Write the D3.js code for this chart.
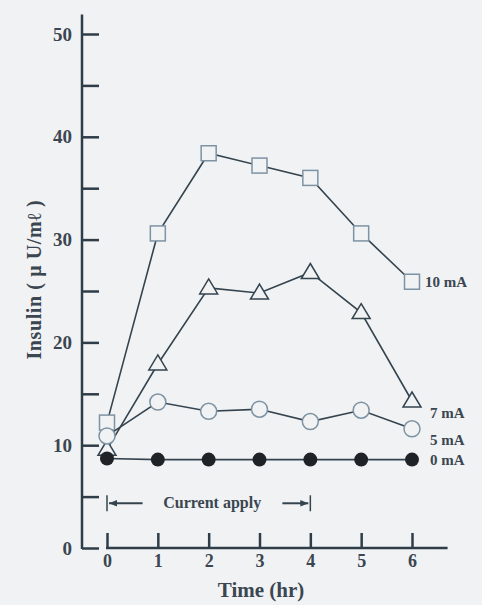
<!DOCTYPE html>
<html>
<head>
<meta charset="utf-8">
<script src="https://cdn.jsdelivr.net/npm/d3@7"></script>
<style>
  html, body { margin: 0; padding: 0; background: #f1f2f4; }
  svg text { font-family: "Liberation Serif", "DejaVu Serif", serif; font-weight: bold; fill: #3b4650; }
</style>
</head>
<body>
<div id="chart"></div>
<script>
// data
const hours = [0, 1, 2, 3, 4, 5, 6];
const ma10 = [12.2, 30.6, 38.4, 37.2, 36.0, 30.6, 25.9];
const ma7 = [9.6, 17.9, 25.3, 24.8, 26.8, 22.9, 14.3];
const ma5 = [10.9, 14.2, 13.3, 13.5, 12.3, 13.4, 11.6];
const ma0 = [8.7, 8.6, 8.6, 8.6, 8.6, 8.6, 8.6];
const seriesNames = ["10 mA", "7 mA", "5 mA", "0 mA"];
const yTicks = [0, 5, 10, 15, 20, 25, 30, 35, 40, 45, 50];

const W = 482, H = 605;
const lineColor = "#34444f";
const markColor = "#7d93a3";
const axisColor = "#2f3d48";
const bg = "#f1f2f4";

const svg = d3.select("#chart")
  .append("svg")
  .attr("width", W)
  .attr("height", H);

svg.append("rect").attr("width", W).attr("height", H).attr("fill", bg);

const x = d3.scaleLinear().domain([0, 6]).range([107, 412]);
const y = d3.scaleLinear().domain([0, 50]).range([548, 34]);

// Y axis
const yAxis = svg.append("g")
  .attr("transform", "translate(82,0)")
  .call(d3.axisLeft(y)
    .tickValues(yTicks)
    .tickSizeInner(-17)
    .tickSizeOuter(0)
    .tickPadding(10)
    .tickFormat(d => d % 10 === 0 ? d : ""));
yAxis.select(".domain").remove();
yAxis.selectAll("line").attr("stroke", axisColor).attr("stroke-width", 2.5);
yAxis.selectAll("text").style("font-size", "19px").attr("fill", "#3b4650");
yAxis.append("line")
  .attr("x1", 0).attr("x2", 0)
  .attr("y1", y(51.9)).attr("y2", y(0) + 1)
  .attr("stroke", axisColor).attr("stroke-width", 2.5);

// X axis
const xAxis = svg.append("g")
  .attr("transform", `translate(0,${y(0)})`)
  .call(d3.axisBottom(x)
    .tickValues(hours)
    .tickSizeInner(-15)
    .tickSizeOuter(0)
    .tickPadding(6)
    .tickFormat(d3.format("d")));
xAxis.select(".domain").remove();
xAxis.selectAll("line").attr("stroke", axisColor).attr("stroke-width", 2.5);
xAxis.selectAll("text").style("font-size", "18px").attr("fill", "#3b4650");
xAxis.append("line")
  .attr("x1", x(0) - 1).attr("x2", x(6.7))
  .attr("y1", 0).attr("y2", 0)
  .attr("stroke", axisColor).attr("stroke-width", 2.5);

// axis titles
svg.append("text")
  .attr("x", x(3.03))
  .attr("y", 597)
  .attr("text-anchor", "middle")
  .style("font-size", "21px")
  .text("Time (hr)");

svg.append("text")
  .attr("transform", `translate(41,${y(26.1)}) rotate(-90)`)
  .attr("text-anchor", "middle")
  .style("font-size", "20px")
  .style("letter-spacing", "0.6px")
  .text("Insulin ( μ U/mℓ )");

// current apply annotation
const annY = y(4.35);
const ann = svg.append("g");
ann.append("defs").append("marker")
  .attr("id", "arr")
  .attr("viewBox", "0 0 10 10")
  .attr("refX", 10).attr("refY", 5)
  .attr("markerWidth", 4).attr("markerHeight", 4)
  .attr("orient", "auto-start-reverse")
  .append("path").attr("d", "M0,1 L10,5 L0,9 Z").attr("fill", lineColor);
[[x(0), x(0.7)], [x(4), x(3.45)]].forEach(([end, start]) => {
  ann.append("line")
    .attr("x1", end).attr("x2", end)
    .attr("y1", annY - 8).attr("y2", annY + 8)
    .attr("stroke", lineColor).attr("stroke-width", 1.5);
  ann.append("line")
    .attr("x1", start).attr("x2", end + (end < start ? 2 : -2))
    .attr("y1", annY).attr("y2", annY)
    .attr("stroke", lineColor).attr("stroke-width", 2)
    .attr("marker-end", "url(#arr)");
});
ann.append("text")
  .attr("x", x(2.07))
  .attr("y", annY + 5)
  .attr("text-anchor", "middle")
  .style("font-size", "16px")
  .text("Current apply");

// series
const series = [
  { name: seriesNames[0], values: ma10, shape: "square" },
  { name: seriesNames[1], values: ma7, shape: "triangle" },
  { name: seriesNames[2], values: ma5, shape: "circle" },
  { name: seriesNames[3], values: ma0, shape: "dot" }
];
const labelOffsets = { "10 mA": 0, "7 mA": -1.2, "5 mA": -1.1, "0 mA": 0 };

const line = d3.line().x((d, i) => x(hours[i])).y(d => y(d));

series.forEach(s => {
  const g = svg.append("g");
  g.append("path")
    .datum(s.values)
    .attr("d", line)
    .attr("fill", "none")
    .attr("stroke", lineColor)
    .attr("stroke-width", 1.6);

  const pts = g.selectAll(".pt")
    .data(s.values)
    .enter()
    .append("g")
    .attr("transform", (d, i) => `translate(${x(hours[i])},${y(d)})`);

  if (s.shape === "square") {
    pts.append("rect")
      .attr("x", -7.5).attr("y", -7.5).attr("width", 15).attr("height", 15)
      .attr("fill", bg).attr("stroke", markColor).attr("stroke-width", 1.5);
  } else if (s.shape === "triangle") {
    pts.append("path")
      .attr("d", "M0,-9 L9,6 L-9,6 Z")
      .attr("fill", bg).attr("stroke", lineColor).attr("stroke-width", 1.5);
  } else if (s.shape === "circle") {
    pts.append("circle")
      .attr("r", 8)
      .attr("fill", bg).attr("stroke", markColor).attr("stroke-width", 1.5);
  } else {
    pts.append("circle")
      .attr("r", 7)
      .attr("fill", "#1f2328");
  }

  svg.append("text")
    .attr("x", x(6) + (s.name === "10 mA" ? 13 : 18))
    .attr("y", y(s.values[6] + labelOffsets[s.name]) + 5)
    .style("font-size", "15px")
    .text(s.name);
});
</script>
</body>
</html>
